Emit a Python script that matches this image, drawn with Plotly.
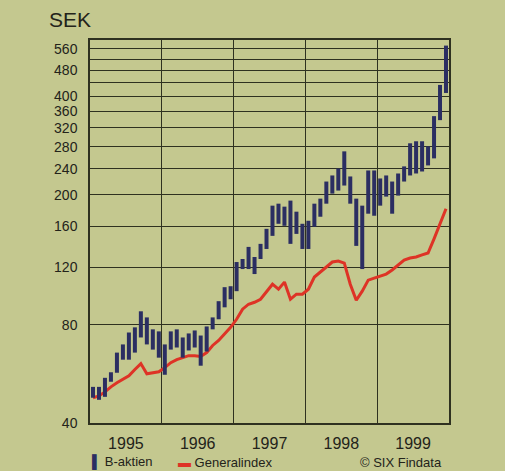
import plotly.graph_objects as go
import math

years = ["1995", "1996", "1997", "1998", "1999"]

# Monthly high/low of B-aktien (SEK), Jan 1995 .. Dec 1999
b_high = [51.6, 51.6, 55.0, 57.2, 65.7, 69.6, 75.7, 78.5, 87.9, 84.2, 77.4, 76.3,
          69.6, 76.3, 77.4, 73.1, 75.2, 76.8, 74.1, 79.0, 84.2, 94.4, 104.2, 104.9,
          124.4, 127.1, 138.4, 128.9, 141.4, 157.2, 185.1, 187.7, 183.8, 191.8, 177.4, 162.9,
          166.4, 187.7, 194.5, 219.4, 229.0, 240.6, 271.4, 227.4, 194.5, 185.1, 237.2, 237.2,
          224.2, 229.0, 219.4, 232.2, 244.1, 287.3, 291.4, 291.4, 281.2, 347.9, 433.5, 572.0]
b_low = [47.8, 47.1, 48.1, 53.5, 57.0, 62.5, 62.5, 65.7, 73.1, 69.6, 67.1, 63.4,
         56.2, 67.1, 68.1, 63.4, 66.7, 68.1, 59.9, 66.2, 77.4, 83.1, 90.4, 95.7,
         101.3, 118.4, 118.4, 114.3, 127.1, 136.4, 149.6, 162.9, 160.6, 141.4, 151.7, 136.4,
         136.4, 159.5, 171.2, 187.7, 201.5, 205.9, 213.3, 187.7, 139.4, 118.4, 174.9, 172.4,
         185.1, 197.3, 174.9, 198.7, 219.4, 229.0, 232.2, 235.5, 245.8, 258.3, 338.2, 409.6]

# Generalindex (rebased), monthly
general = [47.8, 48.4, 49.8, 51.6, 53.1, 54.3, 55.8, 58.3, 60.8, 56.6, 57.0, 57.4,
           59.1, 61.2, 62.5, 63.4, 64.3, 64.3, 63.9, 65.7, 69.1, 71.6, 74.7, 78.5,
           83.1, 89.2, 92.4, 93.7, 95.7, 101.3, 106.4, 102.7, 108.0, 95.7, 99.2, 99.2,
           102.7, 111.9, 115.9, 120.1, 124.4, 125.3, 123.5, 106.4, 95.0, 101.3, 109.5, 111.1,
           112.7, 114.3, 117.6, 121.8, 126.2, 128.0, 128.9, 130.8, 132.6, 146.5, 162.9, 181.2]

y_ticks = [40, 80, 120, 160, 200, 240, 280, 320, 360, 400, 440, 480, 520, 560]
y_labels = ["40", "80", "120", "160", "200", "240", "280", "320", "360", "400", "", "480", "", "560"]

BG = "#c4c88f"
GRID = "#2f3120"
NAVY = "#2b2e62"
RED = "#de3326"
TXT = "#23231a"
FONT = "Liberation Sans, Arial, sans-serif"

month_x = [i + 0.5 for i in range(len(general))]

bx, by = [], []
for x, h, l in zip(month_x, b_high, b_low):
    bx += [x, x, None]
    by += [l, h, None]

fig = go.Figure()
fig.add_trace(go.Scatter(x=month_x, y=general, mode="lines",
                         line=dict(color=RED, width=3), showlegend=False))
fig.add_trace(go.Scatter(x=bx, y=by, mode="lines",
                         line=dict(color=NAVY, width=4), showlegend=False))

fig.update_layout(
    width=505, height=471,
    margin=dict(l=90, r=56, t=40, b=48),
    paper_bgcolor=BG, plot_bgcolor=BG,
    font=dict(family=FONT, color=TXT, size=15),
    showlegend=False,
)
fig.update_xaxes(
    range=[0, 60],
    tickvals=[6, 18, 30, 42, 54], ticktext=years,
    showgrid=False, zeroline=False,
    minor=dict(tick0=0, dtick=12, showgrid=True, gridcolor=GRID, gridwidth=1.3),
    showline=True, mirror=True, linecolor=GRID, linewidth=1.5,
    ticks="", ticklabelstandoff=5,
    tickfont=dict(size=16, color=TXT, family=FONT),
)
fig.update_yaxes(
    type="log",
    range=[math.log10(40), math.log10(595)],
    tickvals=y_ticks, ticktext=y_labels,
    showgrid=True, gridcolor=GRID, gridwidth=1.3, zeroline=False,
    showline=True, mirror=True, linecolor=GRID, linewidth=1.5,
    ticks="", ticklabelstandoff=8,
    tickfont=dict(size=14, color=TXT, family=FONT),
)

ph = 383.0
pw = 359.0
def px(xpix):
    return (xpix - 90) / pw
def py(ypix):
    return (423 - ypix) / ph

fig.add_annotation(text="SEK", x=px(47), y=py(20), xref="paper", yref="paper",
                   xanchor="left", yanchor="middle", showarrow=False,
                   font=dict(size=21, color=TXT, family=FONT))
fig.add_annotation(text="<span style='color:%s'>▌</span> B-aktien" % NAVY,
                   x=px(90), y=py(462), xref="paper", yref="paper",
                   xanchor="left", yanchor="middle", showarrow=False,
                   font=dict(size=13, color=TXT, family=FONT))
fig.add_annotation(text="<span style='color:%s'>▬</span> Generalindex" % RED,
                   x=px(176), y=py(462), xref="paper", yref="paper",
                   xanchor="left", yanchor="middle", showarrow=False,
                   font=dict(size=13, color=TXT, family=FONT))
fig.add_annotation(text="© SIX Findata",
                   x=px(358), y=py(462), xref="paper", yref="paper",
                   xanchor="left", yanchor="middle", showarrow=False,
                   font=dict(size=13, color=TXT, family=FONT))

fig.write_html("out.html", config={"displayModeBar": False},
               post_script="document.body.style.margin='0';document.body.style.overflow='hidden';document.body.style.background='%s';" % BG)
